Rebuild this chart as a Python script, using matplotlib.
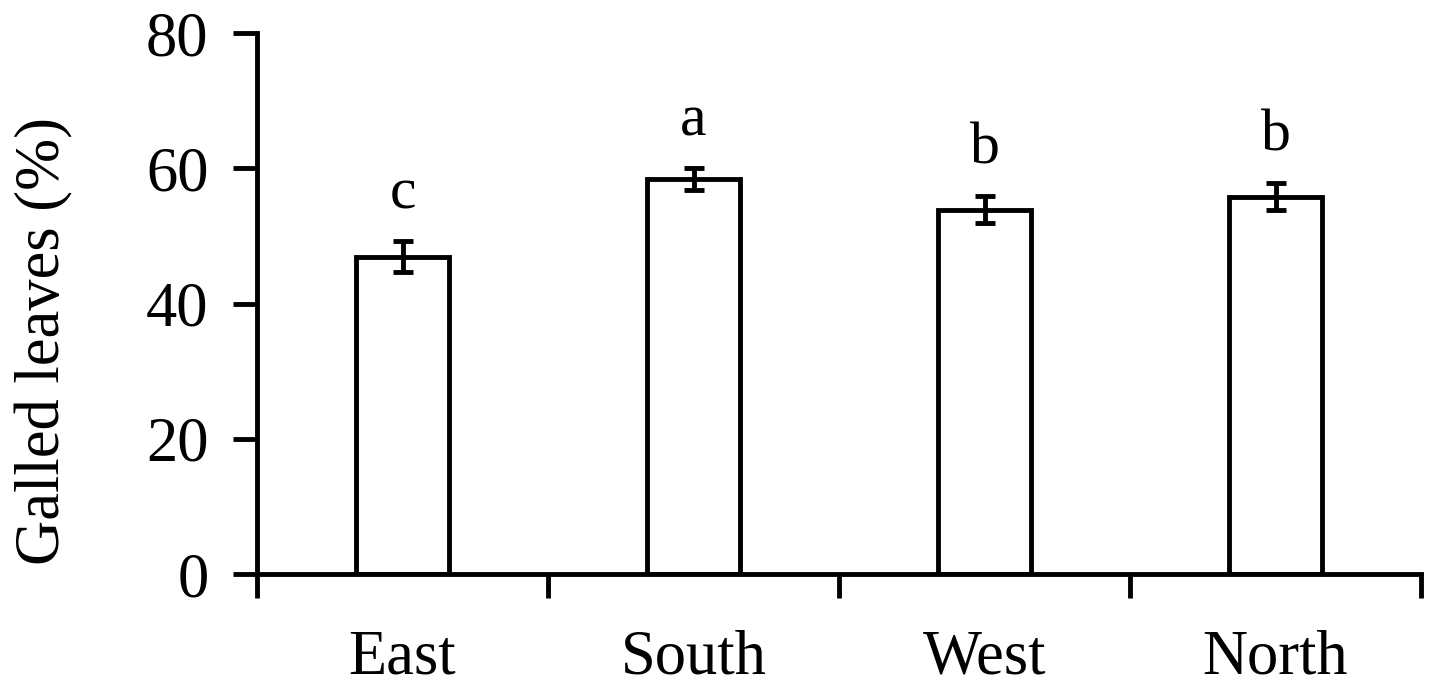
import matplotlib
matplotlib.use("Agg")
import matplotlib.pyplot as plt
from matplotlib.ticker import FixedLocator

categories = ["East", "South", "West", "North"]
means = [46.9, 58.4, 53.9, 55.8]
errors = [2.3, 1.6, 2.0, 2.0]
letters = ["c", "a", "b", "b"]
yticks = [0, 20, 40, 60, 80]

plt.rcParams['font.family'] = ['Liberation Serif', 'DejaVu Serif']

LW = 3.5

fig = plt.figure(figsize=(14.39, 6.85), dpi=100)
ax = fig.add_axes([0.1786, 0.162, 0.8089, 0.7898])

x = list(range(len(categories)))
ax.bar(x, means, width=0.32, facecolor='white', edgecolor='black', linewidth=LW, zorder=2)
ax.errorbar(x, means, yerr=errors, fmt='none', ecolor='black', elinewidth=LW,
            capsize=7, capthick=LW, zorder=3)
for xi, m, e, l in zip(x, means, errors, letters):
    ax.text(xi, m + e + 4.8, l, ha='center', va='baseline', fontsize=43)

ax.set_xlim(-0.5, 3.5)
ax.set_ylim(0, 80)
ax.set_yticks(yticks)
ax.set_yticklabels([str(v) for v in yticks], fontsize=45)
ax.set_xticks(x)
ax.set_xticklabels(categories, fontsize=45)
ax.xaxis.set_minor_locator(FixedLocator([-0.5, 0.5, 1.5, 2.5, 3.5]))
ax.tick_params(axis='x', which='major', length=0, pad=40)
ax.tick_params(axis='x', which='minor', length=17, width=LW, direction='out')
ax.tick_params(axis='y', which='major', length=17, width=LW, direction='out', pad=18)
ax.set_ylabel("Galled leaves (%)", fontsize=45)
ax.yaxis.set_label_coords(-0.158, 0.43)

for s in ['top', 'right']:
    ax.spines[s].set_visible(False)
for s in ['left', 'bottom']:
    ax.spines[s].set_linewidth(LW)

fig.savefig("out.png", dpi=100)
